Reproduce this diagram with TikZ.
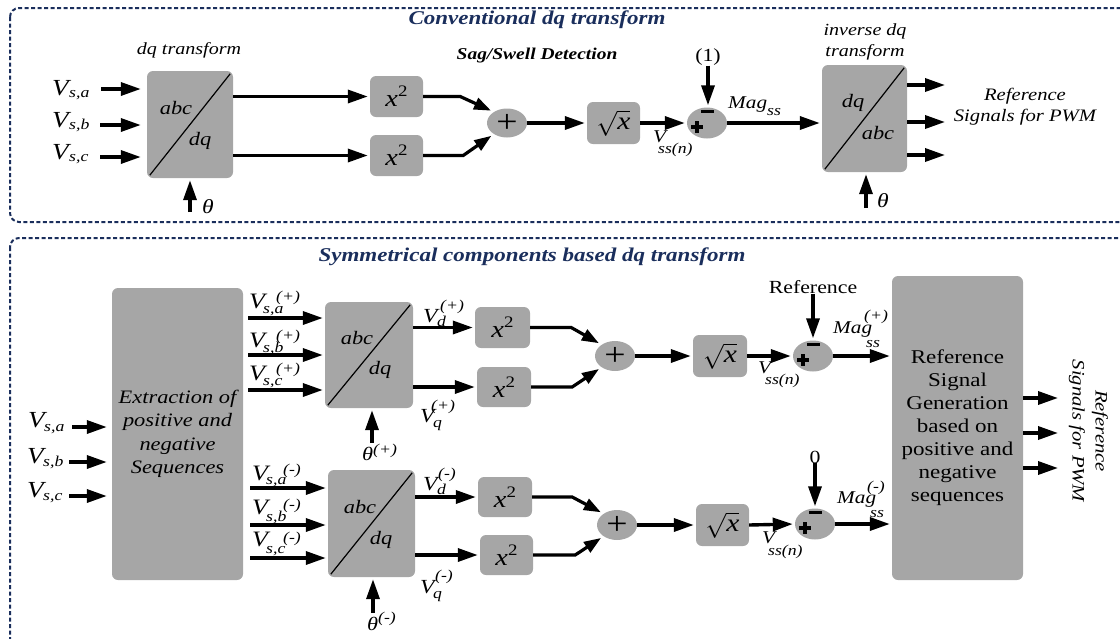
\documentclass[tikz,border=0pt]{standalone}
\usepackage{fontspec}
\setmainfont{Liberation Serif}[FakeStretch=1.18]
\usetikzlibrary{arrows.meta,shapes.geometric,calc}

\definecolor{boxgray}{RGB}{166,166,166}
\definecolor{framenavy}{RGB}{26,46,92}
\newcommand{\fsz}[1]{\fontsize{#1}{#1}\selectfont}
\newcommand{\xsq}{\fsz{24}\textit{x}\raisebox{0.42em}{\fsz{16}2}}
\newcommand{\rootx}{\fsz{25}$\sqrt{\textit{x}}$}
\newcommand{\plusmark}{\fsz{32}+}

\tikzset{
  frame/.style={draw=framenavy, line width=2pt, dash pattern=on 4pt off 2.5pt, rounded corners=9pt},
  blk/.style={rectangle, fill=boxgray, rounded corners=6pt, inner sep=0pt},
  junc/.style={ellipse, fill=boxgray, inner sep=0pt, minimum width=40pt, minimum height=31pt},
  sig/.style={line width=3.4pt, -{Triangle[length=20pt,width=13pt]}, shorten >=2pt},
  kink/.style={line width=3.2pt, -{Triangle[length=17pt,width=12pt]}, shorten >=3pt},
  diag/.style={line width=1.2pt},
  sgn/.style={line width=3.4pt},
  lab/.style={inner sep=0pt, anchor=base west, font=\fsz{22}\itshape},
  subtxt/.style={inner sep=0pt, anchor=base west, font=\fsz{15}\itshape},
  itxt/.style={inner sep=0pt, font=\fsz{19}\itshape},
  note/.style={inner sep=0pt, align=center, font=\fontsize{17}{21}\selectfont\itshape},
  rom/.style={inner sep=0pt, align=center, font=\fsz{18.5}},
  heading/.style={inner sep=0pt, font=\fsz{19.5}\bfseries\itshape, text=framenavy},
}
% plus sign at lower left and minus bar on top of a comparator ellipse
\newcommand{\signs}[1]{%
  \draw[sgn] ($(#1.center)+(-16,4)$) -- ++(12,0);
  \draw[sgn] ($(#1.center)+(-10,-2)$) -- ++(0,12);
  \draw[sgn] ($(#1.center)+(-6,-11.5)$) -- ++(13,0);
}

\begin{document}
\begin{tikzpicture}[x=1pt,y=-1pt]
\useasboundingbox (0,0) rectangle (1120,638);

% ---------- frames and headings ----------
\draw[frame] (10,8) rectangle (1132,222);
\draw[frame] (10,238) rectangle (1132,662);
\node[heading] (t1) at (537,20) {Conventional dq transform};
\node[heading] (t2) at (532,257) {Symmetrical components based dq transform};

% ================= conventional dq transform =================
\node[blk, minimum width=86pt, minimum height=107pt] (dq1) at (190,124.5) {};
\draw[diag] ($(dq1.south west)+(3,-3)$) -- ($(dq1.north east)+(-3,3)$);
\node[itxt] (dq1a) at (176,108) {abc};
\node[itxt] (dq1b) at (200,141) {dq};
\node[note] (dq1t) at (189,50) {dq transform};

\node[lab, font=\fsz{23}\itshape] (va1) at (52,95) {V};  \node[subtxt] (va1s) at (69,97) {s,a};
\node[lab, font=\fsz{23}\itshape] (vb1) at (52,127) {V}; \node[subtxt] (vb1s) at (69,129) {s,b};
\node[lab, font=\fsz{23}\itshape] (vc1) at (52,159) {V}; \node[subtxt] (vc1s) at (69,161) {s,c};
\coordinate (ia1) at (101,89);
\coordinate (ib1) at (100,125);
\coordinate (ic1) at (100,157);
\draw[sig, shorten >=6pt] (ia1) -- (ia1 -| dq1.west);
\draw[sig, shorten >=6pt] (ib1) -- (ib1 -| dq1.west);
\draw[sig, shorten >=6pt] (ic1) -- (ic1 -| dq1.west);

\coordinate (th1) at (190,212);
\draw[sig] (th1) -- (dq1.south);
\node[lab, font=\fsz{20}\itshape] (th1l) at (202,213) {θ};

\node[blk, minimum width=53pt, minimum height=41pt] (sq1) at (396.5,96.5) {\xsq};
\node[blk, minimum width=53pt, minimum height=41pt] (sq2) at (396.5,155.5) {\xsq};
\draw[sig] (dq1.east |- sq1.west) -- (sq1.west);
\draw[sig] (dq1.east |- sq2.west) -- (sq2.west);

\node[rom, font=\fsz{16.5}\bfseries\itshape] (sagt) at (537,56) {Sag/Swell Detection};

\node[junc, minimum height=29pt] (sum1) at (507,123) {\plusmark};
\draw[kink] (sq1.east) -- ++(37,0) -- (sum1.140);
\draw[kink] (sq2.east) -- ++(40,0) -- (sum1.220);

\node[blk, minimum width=53pt, minimum height=42pt] (rt1) at (613.5,123) {\rootx};
\draw[sig] (sum1.east) -- (rt1.west);

\node[junc] (dif1) at (707,123) {};
\signs{dif1}
\draw[sig] (rt1.east) -- (dif1.west);
\node[lab, font=\fsz{18}\itshape] (vss1) at (653,142) {V};
\node[subtxt] (vss1s) at (658,153) {ss(n)};

\node[rom] (one) at (708,57) {(1)};
\draw[sig] (one.south) -- (one.south |- dif1.north);

\node[blk, minimum width=85pt, minimum height=107pt] (idq) at (864.5,118.5) {};
\draw[diag] ($(idq.south west)+(3,-3)$) -- ($(idq.north east)+(-3,3)$);
\node[itxt] (idqa) at (853,103) {dq};
\node[itxt] (idqb) at (878,133) {abc};
\node[note] (idqt) at (865,42) {inverse dq\\transform};
\draw[sig] (dif1.east) -- (dif1.east -| idq.west);
\node[lab, font=\fsz{18}\itshape] (mag1) at (728,108) {Mag};
\node[subtxt] (mag1s) at (767,115) {ss};

\coordinate (th2) at (866,208);
\draw[sig] (th2) -- (th2 |- idq.south);
\node[lab, font=\fsz{20}\itshape] (th2l) at (877,207) {θ};

\coordinate (o1) at (947,85);
\coordinate (o2) at (947,122);
\coordinate (o3) at (947,155);
\draw[sig] (idq.east |- o1) -- (o1);
\draw[sig] (idq.east |- o2) -- (o2);
\draw[sig] (idq.east |- o3) -- (o3);
\node[note, font=\fontsize{17.5}{21}\selectfont\itshape] (pwm1) at (1025,107) {Reference\\Signals for PWM};

% ================= symmetrical components based dq transform =================
\node[blk, minimum width=131pt, minimum height=292pt, align=center,
      font=\fontsize{19}{23.5}\selectfont\itshape] (ext) at (177.5,434)
      {Extraction of\\positive and\\negative\\Sequences};

\node[lab, font=\fsz{23}\itshape] (va2) at (28,427) {V}; \node[subtxt] (va2s) at (44,431) {s,a};
\node[lab, font=\fsz{23}\itshape] (vb2) at (27,463) {V}; \node[subtxt] (vb2s) at (43,466) {s,b};
\node[lab, font=\fsz{23}\itshape] (vc2) at (27,497) {V}; \node[subtxt] (vc2s) at (43,500) {s,c};
\coordinate (ia2) at (72,427);
\coordinate (ib2) at (69,462);
\coordinate (ic2) at (69,496);
\draw[sig, shorten >=5pt] (ia2) -- (ia2 -| ext.west);
\draw[sig, shorten >=5pt] (ib2) -- (ib2 -| ext.west);
\draw[sig, shorten >=5pt] (ic2) -- (ic2 -| ext.west);

% positive sequence branch
\node[blk, minimum width=88pt, minimum height=106pt] (dqp) at (369,355) {};
\draw[diag] ($(dqp.south west)+(3,-3)$) -- ($(dqp.north east)+(-3,3)$);
\node[itxt] (dqpa) at (357,338) {abc};
\node[itxt] (dqpb) at (380,370) {dq};

\coordinate (pa) at (248,318);
\coordinate (pb) at (248,355);
\coordinate (pc) at (248,390);
\draw[sig] (pa) -- (pa -| dqp.west);
\draw[sig] (pb) -- (pb -| dqp.west);
\draw[sig] (pc) -- (pc -| dqp.west);
\node[lab] (vpa) at (249,308) {V}; \node[subtxt] (vpas) at (263,313) {s,a}; \node[subtxt] (vpap) at (276,301) {(+)};
\node[lab] (vpb) at (249,347) {V}; \node[subtxt] (vpbs) at (263,352) {s,b}; \node[subtxt] (vpbp) at (276,340) {(+)};
\node[lab] (vpc) at (249,380) {V}; \node[subtxt] (vpcs) at (263,385) {s,c}; \node[subtxt] (vpcp) at (276,373) {(+)};

\coordinate (th3) at (372,443);
\draw[sig] (th3) -- (th3 |- dqp.south);
\node[lab, font=\fsz{19}\itshape] (th3l) at (362,460) {θ};
\node[subtxt] (th3p) at (373,454) {(+)};

\node[blk, minimum width=55pt, minimum height=41pt] (sqp1) at (502.5,327.5) {\xsq};
\node[blk, minimum width=54pt, minimum height=40pt] (sqp2) at (504,387) {\xsq};
\draw[sig] (dqp.east |- sqp1.west) -- (sqp1.west);
\draw[sig] (dqp.east |- sqp2.west) -- (sqp2.west);
\node[lab, font=\fsz{20}\itshape] (vdp) at (423,322) {V};
\node[subtxt] (vdps) at (437,326) {d}; \node[subtxt] (vdpp) at (440,310) {(+)};
\node[lab, font=\fsz{20}\itshape] (vqp) at (420,422) {V};
\node[subtxt] (vqps) at (433,427) {q}; \node[subtxt] (vqpp) at (431,410) {(+)};

\node[junc, minimum height=30pt] (sump) at (615,356) {\plusmark};
\draw[kink] (sqp1.east) -- ++(41,0) -- (sump.140);
\draw[kink] (sqp2.east) -- ++(41,0) -- (sump.220);

\node[blk, minimum width=54pt, minimum height=42pt] (rtp) at (720,356) {\rootx};
\draw[sig] (sump.east) -- (rtp.west);

\node[junc] (difp) at (813,356) {};
\signs{difp}
\draw[sig] (rtp.east) -- (difp.west);
\node[lab, font=\fsz{18}\itshape] (vssp) at (758,373) {V};
\node[subtxt] (vssps) at (765,384) {ss(n)};

\node[rom] (refp) at (813,287) {Reference};
\draw[sig] (refp.south) -- (difp.north);

% negative sequence branch
\node[blk, minimum width=87pt, minimum height=107pt] (dqm) at (371.5,523.5) {};
\draw[diag] ($(dqm.south west)+(3,-3)$) -- ($(dqm.north east)+(-3,3)$);
\node[itxt] (dqma) at (360,507) {abc};
\node[itxt] (dqmb) at (381,540) {dq};

\coordinate (ma) at (250,488);
\coordinate (mb) at (250,525);
\coordinate (mc) at (250,558);
\draw[sig] (ma) -- (ma -| dqm.west);
\draw[sig] (mb) -- (mb -| dqm.west);
\draw[sig] (mc) -- (mc -| dqm.west);
\node[lab] (vma) at (252,480) {V}; \node[subtxt] (vmas) at (266,484) {s,a}; \node[subtxt] (vmap) at (283,474) {(-)};
\node[lab] (vmb) at (252,514) {V}; \node[subtxt] (vmbs) at (266,521) {s,b}; \node[subtxt] (vmbp) at (283,509) {(-)};
\node[lab] (vmc) at (252,546) {V}; \node[subtxt] (vmcs) at (266,553) {s,c}; \node[subtxt] (vmcp) at (283,542) {(-)};

\coordinate (th4) at (373,613);
\draw[sig] (th4) -- (th4 |- dqm.south);
\node[lab, font=\fsz{19}\itshape] (th4l) at (367,630) {θ};
\node[subtxt] (th4p) at (378,622) {(-)};

\node[blk, minimum width=54pt, minimum height=40pt] (sqm1) at (505,497) {\xsq};
\node[blk, minimum width=53pt, minimum height=40pt] (sqm2) at (506.5,555) {\xsq};
\draw[sig] (dqm.east |- sqm1.west) -- (sqm1.west);
\draw[sig] (dqm.east |- sqm2.west) -- (sqm2.west);
\node[lab, font=\fsz{20}\itshape] (vdm) at (423,490) {V};
\node[subtxt] (vdms) at (437,494) {d}; \node[subtxt] (vdmp) at (438,478) {(-)};
\node[lab, font=\fsz{20}\itshape] (vqm) at (420,593) {V};
\node[subtxt] (vqms) at (433,598) {q}; \node[subtxt] (vqmp) at (435,580) {(-)};

\node[junc, minimum height=30pt] (summ) at (617,525) {\plusmark};
\draw[kink] (sqm1.east) -- ++(40,0) -- (summ.140);
\draw[kink] (sqm2.east) -- ++(42,0) -- (summ.220);

\node[blk, minimum width=53pt, minimum height=42pt] (rtm) at (722.5,525) {\rootx};
\draw[sig] (summ.east) -- (rtm.west);

\node[junc] (difm) at (815,524) {};
\signs{difm}
\draw[sig] (rtm.east) -- (difm.west);
\node[lab, font=\fsz{18}\itshape] (vssm) at (762,543) {V};
\node[subtxt] (vssms) at (768,555) {ss(n)};

\node[rom] (zero) at (815,457) {0};
\draw[sig] (zero.south) -- (difm.north);

% reference signal generation
\node[blk, minimum width=131pt, minimum height=304pt, align=center,
      font=\fontsize{19.5}{23}\selectfont] (rsg) at (957.5,428)
      {Reference\\Signal\\Generation\\based on\\positive and\\negative\\sequences};
\draw[sig] (difp.east) -- (difp.east -| rsg.west);
\draw[sig] (difm.east) -- (difm.east -| rsg.west);
\node[lab, font=\fsz{18}\itshape] (magp) at (833,333) {Mag};
\node[subtxt] (magps) at (866,347) {ss}; \node[subtxt] (magpp) at (864,320) {(+)};
\node[lab, font=\fsz{18}\itshape] (magm) at (837,503) {Mag};
\node[subtxt] (magms) at (870,517) {ss}; \node[subtxt] (magmp) at (867,491) {(-)};

\coordinate (r1) at (1060,398);
\coordinate (r2) at (1060,433);
\coordinate (r3) at (1060,468);
\draw[sig] (rsg.east |- r1) -- (r1);
\draw[sig] (rsg.east |- r2) -- (r2);
\draw[sig] (rsg.east |- r3) -- (r3);
\node[note, rotate=-90, font=\fontsize{17.5}{23}\selectfont\itshape] (pwm2) at (1088.5,431)
      {Reference\\Signals for PWM};
\end{tikzpicture}
\end{document}
